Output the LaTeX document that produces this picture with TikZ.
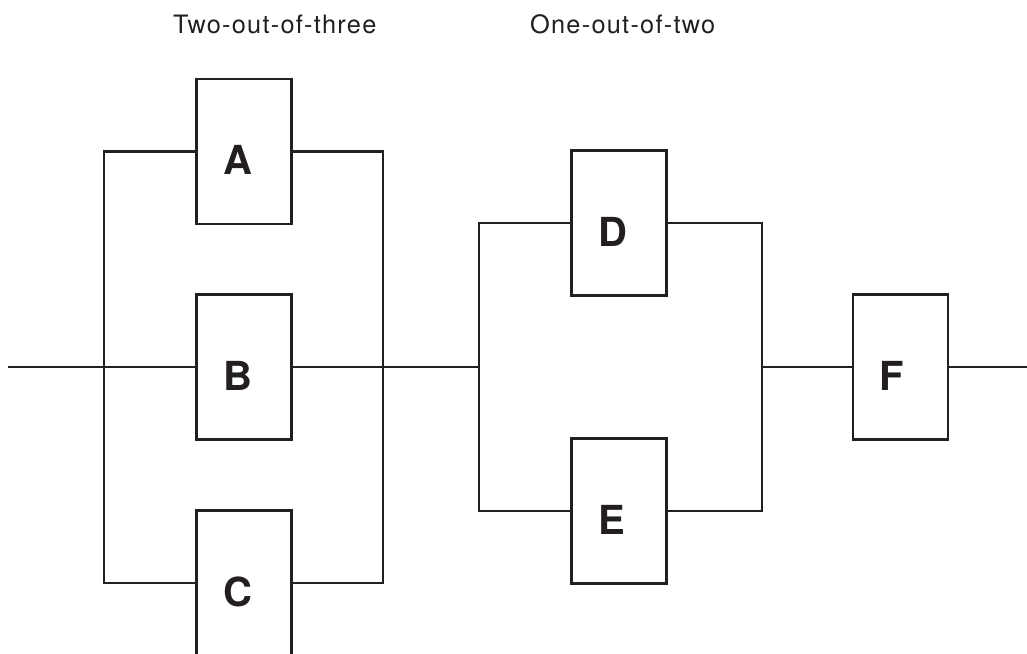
\documentclass[tikz,border=0pt]{standalone}
\usepackage{fontspec}
\setmainfont{TeX Gyre Heros}
\newfontfamily\spacedfont[LetterSpace=5]{TeX Gyre Heros}
\definecolor{ink}{RGB}{35,31,32}

\begin{document}
\begin{tikzpicture}[x=0.75pt,y=-0.75pt,line width=1.7pt,color=ink,
  unit/.style={draw,rectangle,minimum height=108.75pt,text width=31.25pt,
    inner xsep=20pt,inner ysep=0pt,text height=35pt,text depth=0pt,align=left,
    font=\fontsize{30}{30}\selectfont\bfseries},
  caption/.style={anchor=base west,inner sep=0pt,font=\spacedfont\fontsize{19}{22}\selectfont}]
 \useasboundingbox (0,0) rectangle (1027,653);
 \clip (0,0) rectangle (1027,653);
 % headings
 \node[caption] (twothree) at (172,33) {Two-out-of-three};
 \node[caption] (onetwo) at (529,33) {One-out-of-two};
 % units
 \node[unit] (A) at (244,151.5) {A};
 \node[unit] (B) at (244,367) {B};
 \node[unit] (C) at (244,583) {C};
 \node[unit] (D) at (619,223) {D};
 \node[unit] (E) at (619,511) {E};
 \node[unit] (F) at (900.5,367) {F};
 % branch points on the main line
 \coordinate (in) at (8,367);
 \coordinate (split1) at (104,367);
 \coordinate (join1) at (383,367);
 \coordinate (split2) at (479,367);
 \coordinate (join2) at (762,367);
 \coordinate (out) at (1027,367);
 % two-out-of-three block
 \draw (in) -- (B.west) (B.east) -- (split2);
 \draw (A.west) -| (split1) |- (C.west);
 \draw (A.east) -| (join1) |- (C.east);
 % one-out-of-two block
 \draw (D.west) -| (split2) |- (E.west);
 \draw (D.east) -| (join2) |- (E.east);
 % series unit
 \draw (join2) -- (F.west) (F.east) -- (out);
\end{tikzpicture}
\end{document}
